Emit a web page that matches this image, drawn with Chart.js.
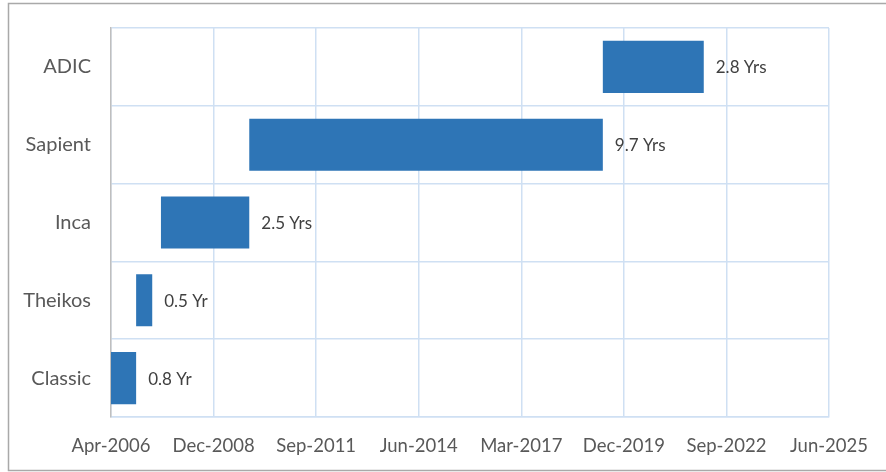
<!DOCTYPE html>
<html>
<head>
<meta charset="utf-8">
<script src="https://cdn.jsdelivr.net/npm/chart.js@4.4.1/dist/chart.umd.min.js"></script>
<style>
  html, body { margin: 0; padding: 0; background: #fff; }
  #wrap { position: relative; width: 886px; height: 472px; }
</style>
</head>
<body>
<div id="wrap"><canvas id="chart" width="886" height="472"></canvas></div>
<script>
// tenure data
const companies = ['ADIC', 'Sapient', 'Inca', 'Theikos', 'Classic'];
const startDates = ['2019-05-22', '2009-12-13', '2007-08-05', '2006-12-06', '2006-02-20'];
const endDates = ['2022-01-30', '2019-05-22', '2009-12-13', '2007-05-12', '2006-12-06'];
const durationLabels = ['2.8 Yrs', '9.7 Yrs', '2.5 Yrs', '0.5 Yr', '0.8 Yr'];

// axis: Apr-2006 to Jun-2025, a tick every 1000 days
const axisStart = '2006-04-05';
const tickStepDays = 1000;
const tickCount = 8;

const DAY = 86400000;
const toDays = s => Date.parse(s) / DAY;
const months = ['Jan','Feb','Mar','Apr','May','Jun','Jul','Aug','Sep','Oct','Nov','Dec'];
const fmtDay = d => {
  const dt = new Date(d * DAY);
  return months[dt.getUTCMonth()] + '-' + dt.getUTCFullYear();
};

const axisMin = toDays(axisStart);
const axisMax = axisMin + tickStepDays * (tickCount - 1);

const FONT = 'Lato, "Open Sans", sans-serif';
const gridBlue = '#cfe0f3';

const barLabels = {
  id: 'barLabels',
  afterDatasetsDraw(chart) {
    const ctx = chart.ctx;
    const meta = chart.getDatasetMeta(0);
    ctx.save();
    ctx.font = '17px ' + FONT;
    ctx.fillStyle = '#404040';
    ctx.textAlign = 'left';
    ctx.textBaseline = 'middle';
    meta.data.forEach((bar, i) => {
      ctx.fillText(durationLabels[i], bar.x + 12, bar.y + 1);
    });
    ctx.restore();
  }
};

const frame = {
  id: 'frame',
  beforeDraw(chart) {
    const ctx = chart.ctx;
    ctx.save();
    ctx.strokeStyle = '#a9a9a9';
    ctx.lineWidth = 1.5;
    ctx.strokeRect(8.5, 3.5, 900, 467);
    ctx.restore();
  }
};

new Chart(document.getElementById('chart'), {
  type: 'bar',
  data: {
    labels: companies,
    datasets: [{
      data: companies.map((c, i) => [toDays(startDates[i]), toDays(endDates[i])]),
      backgroundColor: '#2e75b6',
      borderWidth: 0,
      borderSkipped: false,
      barPercentage: 0.67,
      categoryPercentage: 1
    }]
  },
  options: {
    indexAxis: 'y',
    responsive: false,
    animation: false,
    layout: { padding: { top: 28, right: 57, left: 0, bottom: 0 } },
    plugins: { legend: { display: false }, tooltip: { enabled: false } },
    scales: {
      x: {
        type: 'linear',
        min: axisMin,
        max: axisMax,
        afterBuildTicks: scale => {
          scale.ticks = Array.from({ length: tickCount }, (_, i) => ({ value: axisMin + i * tickStepDays }));
        },
        afterFit: scale => { scale.height = 55; },
        grid: { color: gridBlue, lineWidth: 1.5, drawTicks: false },
        border: { color: gridBlue, width: 1.5 },
        ticks: {
          callback: v => fmtDay(v),
          font: { family: FONT, size: 18.5 },
          color: '#595959',
          padding: 18,
          maxRotation: 0,
          autoSkip: false
        }
      },
      y: {
        type: 'category',
        afterFit: scale => {
          scale.width = 111;
          scale.paddingTop = 0;
          scale.paddingBottom = 0;
        },
        grid: { color: gridBlue, lineWidth: 1.5, drawTicks: false, offset: true },
        border: { color: '#bfbfbf', width: 1.5 },
        ticks: {
          font: { family: FONT, size: 20 },
          color: '#595959',
          padding: 20
        }
      }
    }
  },
  plugins: [frame, barLabels]
});
</script>
</body>
</html>
